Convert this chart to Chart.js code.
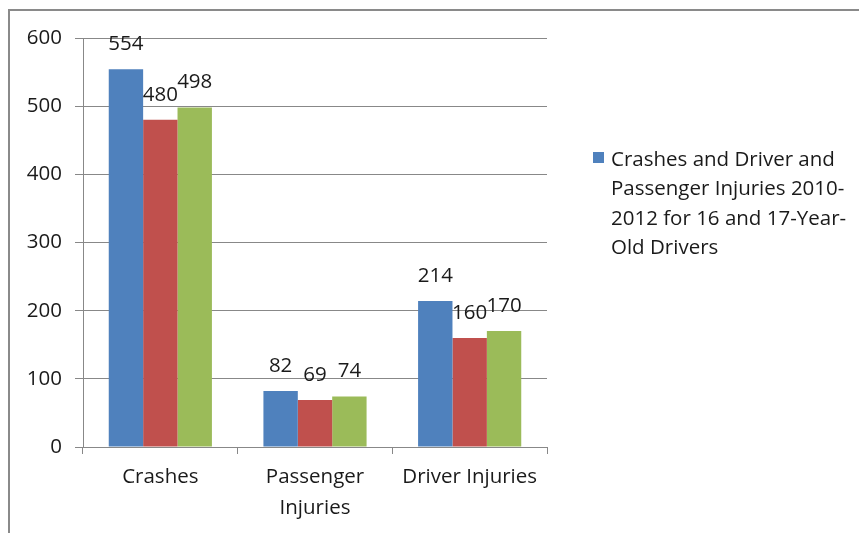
<!DOCTYPE html>
<html>
<head>
<meta charset="utf-8">
<script src="https://cdn.jsdelivr.net/npm/chart.js@4"></script>
<style>
  html, body { margin: 0; padding: 0; background: #fff; }
  #wrap { position: relative; width: 859px; height: 533px; overflow: hidden; }
  #frame { position: absolute; left: 8px; top: 9px; width: 900px; height: 600px;
           border-top: 2px solid #8a8a8a; border-left: 2px solid #8a8a8a; }
  canvas { position: absolute; left: 0; top: 0; }
</style>
</head>
<body>
<div id="wrap">
  <div id="frame"></div>
  <canvas id="chart" width="859" height="533"></canvas>
</div>
<script>
// categories and series
var categories = ['Crashes', ['Passenger', 'Injuries'], 'Driver Injuries'];
var seriesNames = ['Crashes and Driver and Passenger Injuries 2010-2012 for 16 and 17-Year-Old Drivers', 'Series 2', 'Series 3'];
var blueValues = [554, 82, 214];
var redValues = [480, 69, 160];
var greenValues = [498, 74, 170];
var yTicks = [0, 100, 200, 300, 400, 500, 600];
var legendLines = ['Crashes and Driver and', 'Passenger Injuries 2010-', '2012 for 16 and 17-Year-', 'Old Drivers'];

var fontFamily = '"Open Sans", Lato, sans-serif';
var fontSize = 20.5;
var textColor = '#1a1a1a';
var gridColor = '#888888';

// value labels above each bar
const valueLabels = {
    id: 'valueLabels',
    afterDatasetsDraw(chart) {
        const ctx = chart.ctx;
        ctx.save();
        ctx.font = fontSize + 'px ' + fontFamily;
        ctx.fillStyle = textColor;
        ctx.textAlign = 'center';
        ctx.textBaseline = 'middle';
        chart.data.datasets.forEach((ds, i) => {
            chart.getDatasetMeta(i).data.forEach((bar, j) => {
                ctx.fillText(ds.data[j], bar.x, bar.y - 25);
            });
        });
        ctx.restore();
    }
};

// legend with wrapped text, only the first series is shown
const wrappedLegend = {
    id: 'wrappedLegend',
    afterDraw(chart) {
        const ctx = chart.ctx;
        const area = chart.chartArea;
        const x0 = area.right + 46;
        ctx.save();
        ctx.fillStyle = chart.data.datasets[0].backgroundColor;
        ctx.fillRect(x0, 152, 11, 11);
        ctx.font = fontSize + 'px ' + fontFamily;
        ctx.fillStyle = textColor;
        ctx.textAlign = 'left';
        ctx.textBaseline = 'middle';
        legendLines.forEach((line, i) => {
            ctx.fillText(line, x0 + 18, 160 + i * 29.5);
        });
        ctx.restore();
    }
};

const ctx = document.getElementById('chart').getContext('2d');
const myChart = new Chart(ctx, {
    type: 'bar',
    data: {
        labels: categories,
        datasets: [
            { label: seriesNames[0], data: blueValues, backgroundColor: '#4F81BD' },
            { label: seriesNames[1], data: redValues, backgroundColor: '#C0504D' },
            { label: seriesNames[2], data: greenValues, backgroundColor: '#9BBB59' }
        ]
    },
    options: {
        responsive: false,
        animation: false,
        layout: { padding: { top: 38, right: 312, bottom: 0, left: 0 } },
        categoryPercentage: 0.667,
        barPercentage: 1.0,
        plugins: {
            legend: { display: false },
            tooltip: { enabled: false }
        },
        scales: {
            x: {
                grid: {
                    offset: true,
                    drawOnChartArea: false,
                    drawTicks: true,
                    tickLength: 7,
                    tickColor: gridColor
                },
                border: { display: true, color: gridColor },
                ticks: {
                    color: textColor,
                    font: { family: fontFamily, size: fontSize, lineHeight: 1.5 },
                    padding: 8,
                    maxRotation: 0,
                    autoSkip: false
                },
                afterFit: function (scale) { scale.height = 533 - 447; }
            },
            y: {
                min: 0,
                max: 600,
                afterBuildTicks: function (scale) {
                    scale.ticks = yTicks.map(v => ({ value: v }));
                },
                grid: {
                    color: gridColor,
                    drawTicks: true,
                    tickLength: 8,
                    tickColor: gridColor
                },
                border: { display: true, color: gridColor },
                ticks: {
                    color: textColor,
                    font: { family: fontFamily, size: fontSize },
                    padding: 13
                },
                afterFit: function (scale) { scale.width = 83; }
            }
        }
    },
    plugins: [valueLabels, wrappedLegend]
});
</script>
</body>
</html>
